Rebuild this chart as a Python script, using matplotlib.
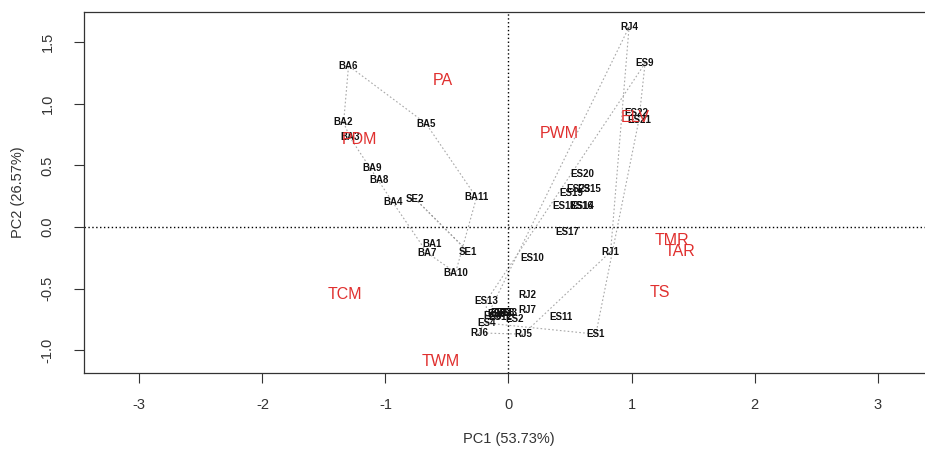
#!/usr/bin/env python3
"""PCA biplot: sample scores (black) + variable labels (red), dotted hulls per site group."""

import numpy as np
import matplotlib
matplotlib.use('Agg')
import matplotlib.pyplot as plt

# ───────────────── data ─────────────────
sample_lbl = ['BA6', 'BA2', 'BA3', 'BA5', 'BA9', 'BA8', 'BA4', 'SE2', 'BA11',
              'BA1', 'BA7', 'SE1', 'BA10',
              'RJ4', 'ES9', 'ES22', 'ES21', 'ES20', 'ES23', 'ES15', 'ES19',
              'ES18', 'ES16', 'ES14', 'ES17', 'ES10', 'RJ1',
              'ES13', 'RJ2', 'RJ7', 'ES3', 'ES5', 'ES6', 'ES7', 'ES8', 'RJ3',
              'ES12', 'ES2', 'ES4', 'ES11', 'RJ6', 'RJ5', 'ES1']
sample_pc1 = [-1.30, -1.34, -1.29, -0.67, -1.11, -1.05, -0.94, -0.76, -0.26,
              -0.62, -0.66, -0.33, -0.43,
              0.98, 1.11, 1.04, 1.06, 0.60, 0.57, 0.66, 0.51,
              0.45, 0.59, 0.60, 0.48, 0.19, 0.83,
              -0.18, 0.15, 0.15, -0.13, -0.10, -0.07, -0.05, -0.02, 0.00,
              -0.07, 0.05, -0.18, 0.43, -0.24, 0.12, 0.71]
sample_pc2 = [1.31, 0.85, 0.73, 0.84, 0.48, 0.38, 0.20, 0.23, 0.24,
              -0.14, -0.21, -0.20, -0.37,
              1.625, 1.33, 0.93, 0.87, 0.43, 0.31, 0.31, 0.28,
              0.17, 0.17, 0.17, -0.04, -0.25, -0.20,
              -0.60, -0.55, -0.67, -0.72, -0.71, -0.70, -0.70, -0.70, -0.70,
              -0.73, -0.75, -0.78, -0.73, -0.86, -0.87, -0.87]

var_lbl = ['PA', 'PDM', 'PWM', 'ELV', 'TMR', 'TAR', 'TS', 'TCM', 'TWM']
var_pc1 = [-0.53, -1.21, 0.41, 1.03, 1.33, 1.39, 1.23, -1.33, -0.55]
var_pc2 = [1.19, 0.71, 0.76, 0.89, -0.11, -0.20, -0.53, -0.55, -1.09]

xlab, ylab = 'PC1 (53.73%)', 'PC2 (26.57%)'

# ───────────────── helpers ─────────────────
def _hull(pts):
    """Monotone chain convex hull, returns closed ring."""
    pts = sorted(set(map(tuple, pts)))
    if len(pts) < 3:
        return np.array(pts + pts[:1])
    cross = lambda o, a, b: (a[0]-o[0])*(b[1]-o[1]) - (a[1]-o[1])*(b[0]-o[0])
    lo, up = [], []
    for p in pts:
        while len(lo) >= 2 and cross(lo[-2], lo[-1], p) <= 0: lo.pop()
        lo.append(p)
    for p in reversed(pts):
        while len(up) >= 2 and cross(up[-2], up[-1], p) <= 0: up.pop()
        up.append(p)
    ring = lo[:-1] + up[:-1]
    return np.array(ring + ring[:1])

# ───────────────── figure ─────────────────
plt.rcParams['font.family'] = ['Liberation Sans', 'DejaVu Sans']
fig = plt.figure(figsize=(9.25, 4.53), dpi=100)
W, H = 925, 453
ax = fig.add_axes([84/W, 1 - 373.3/H, (933 - 84)/W, (373.3 - 12)/H])
ax.set_xlim(-3.45, 3.45); ax.set_ylim(-1.188, 1.7466)

# group hulls (BA / SE / ES / RJ)
x, y = np.array(sample_pc1), np.array(sample_pc2)
grp = np.array([''.join(c for c in s if c.isalpha()) for s in sample_lbl])
for g in dict.fromkeys(grp):
    m = grp == g
    ring = _hull(np.column_stack([x[m], y[m]]))
    ax.plot(ring[:, 0], ring[:, 1], c='#a8a8a8', lw=0.8, ls=(0, (1.5, 2)), zorder=1)

ax.axhline(0, c='black', lw=1, ls=(0, (1, 1.8)), zorder=2)
ax.axvline(0, c='black', lw=1, ls=(0, (1, 1.8)), zorder=2)

for s, px, py in zip(sample_lbl, sample_pc1, sample_pc2):
    ax.text(px, py, s, ha='center', va='center', fontsize=7, fontweight='bold',
            color='#111111', zorder=3)
for s, px, py in zip(var_lbl, var_pc1, var_pc2):
    ax.text(px, py, s, ha='center', va='center', fontsize=11.5,
            color='#e0302f', zorder=4)

# axes cosmetics (R base-graphics look)
ax.set_xticks(range(-3, 4))
ax.set_yticks(np.arange(-1.0, 1.51, 0.5))
ax.set_xticklabels([f'{v:d}' for v in range(-3, 4)])
ax.set_yticklabels([f'{v:.1f}' for v in np.arange(-1.0, 1.51, 0.5)])
ax.tick_params(direction='out', length=7, width=0.8, colors='#333333',
               labelsize=10.5, labelcolor='#333333')
ax.tick_params(axis='x', pad=11)
ax.tick_params(axis='y', pad=14, labelrotation=90)
for t in ax.get_yticklabels():
    t.set_va('center')
for sp in ax.spines.values():
    sp.set_color('#333333'); sp.set_linewidth(0.9)

ax.set_xlabel(xlab, fontsize=10.5, color='#333333')
ax.set_ylabel(ylab, fontsize=10.5, color='#333333')
ax.xaxis.set_label_coords(0.5, (373.3 - 439) / 361.3)
ax.xaxis.label.set_va('center')
ax.yaxis.set_label_coords((18 - 84) / 849, 0.5)
ax.yaxis.label.set_va('center')

fig.savefig('out.png', dpi=100)
